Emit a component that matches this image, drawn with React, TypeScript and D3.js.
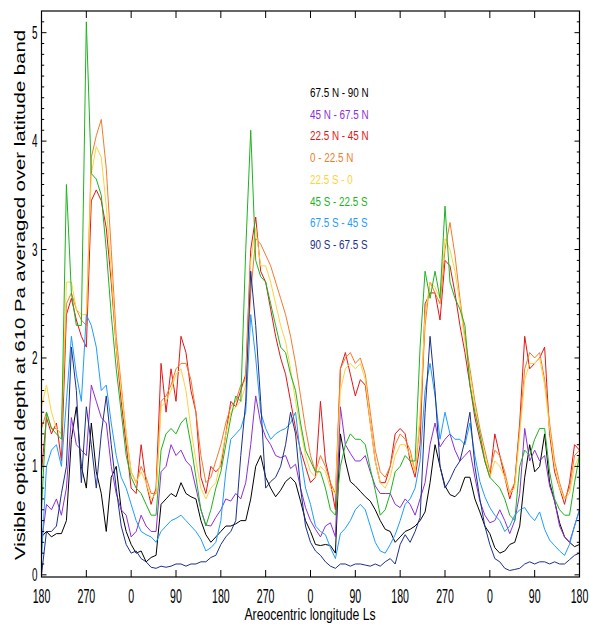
import React from 'react';
import * as d3 from 'd3';

// Ls offset (deg) from the first Ls 180, one sample every 10 deg
const stepDeg = 10;
const tickDegs = [0, 90, 180, 270, 360, 450, 540, 630, 720, 810, 900, 990, 1080];
const tickLabels = ['180', '270', '0', '90', '180', '270', '0', '90', '180', '270', '0', '90', '180'];
const yTicks = [0, 1, 2, 3, 4, 5];

const band67N90N = [0.35,0.4,0.35,0.38,0.38,0.5,1.25,1.55,1.0,0.8, 1.4,0.95,0.75,0.4,0.9,1.0,0.6,0.4,0.28,0.2, 0.22,0.12,0.16,0.18,0.65,0.7,0.75,0.72,0.85,0.75, 0.72,0.7,0.5,0.37,0.3,0.35,0.4,0.45,0.45,0.47, 0.5,0.5,0.7,1.0,1.1,0.9,0.8,0.72,0.78,0.86, 0.9,0.85,0.68,0.5,0.4,0.28,0.27,0.28,0.27,0.2, 1.3,1.05,0.86,0.82,0.77,0.72,0.68,0.6,0.5,0.42, 0.4,0.3,0.35,0.4,0.42,0.45,0.5,0.58,0.85,1.2, 1.0,0.82,0.74,0.72,0.77,0.9,0.9,0.7,0.58,0.45, 0.38,0.25,0.2,0.22,0.28,0.3,0.45,0.9,1.2,0.95, 1.0,1.3,0.85,0.68,0.48,0.35,0.3,0.26,0.28];
const band45N67N = [0.3,0.65,0.6,0.7,0.55,0.8,1.45,1.2,1.15,1.1, 1.75,1.6,1.45,1.4,1.0,0.75,0.6,0.55,0.35,0.4, 0.55,0.45,0.4,0.4,0.95,1.0,1.2,1.1,1.15,1.05, 1.0,0.8,0.6,0.46,0.45,0.53,0.6,0.7,0.68,0.75, 0.7,0.85,1.2,1.65,1.4,1.27,1.2,1.1,1.08,1.1, 0.98,1.02,0.8,0.62,0.5,0.42,0.35,0.45,0.48,0.35, 1.55,1.2,1.12,1.05,1.05,1.1,0.95,0.82,0.75,0.75, 0.75,0.65,0.62,0.7,0.65,0.55,0.7,0.85,1.2,1.4, 1.18,1.25,1.3,1.15,1.05,1.1,1.15,0.9,0.68,0.55, 0.48,0.5,0.6,0.5,0.38,0.5,0.75,1.35,1.05,1.15, 1.05,1.1,0.82,0.68,0.45,0.35,0.3,0.45,0.6];
const band22N45N = [0.95,1.45,1.3,1.4,1.05,2.4,2.55,2.35,2.2,2.1, 3.45,3.55,3.45,3.2,2.7,2.1,1.6,1.2,0.8,0.75, 1.2,0.85,0.65,0.8,1.95,1.5,1.9,1.6,2.2,2.05, 1.7,1.5,0.9,0.75,1.0,0.95,1.0,1.3,1.6,1.55, 1.7,1.85,3.0,3.3,2.8,2.7,2.45,2.2,2.0,1.85, 1.6,1.35,1.15,1.0,0.85,0.9,1.6,1.05,0.85,0.6, 1.9,2.05,1.85,1.65,1.8,1.75,1.4,1.05,0.85,0.85, 1.0,1.3,1.35,1.3,1.05,0.9,1.2,2.5,2.6,2.6, 2.35,2.9,2.85,2.6,2.3,2.05,1.75,1.45,1.25,1.05, 0.9,1.3,1.1,0.9,0.7,0.85,1.4,2.2,1.9,1.95, 2.0,2.1,1.3,0.95,0.8,0.65,0.85,1.2,1.15];
const band0N22N = [1.35,1.5,1.35,1.35,1.3,2.5,2.6,2.45,2.35,2.3, 3.85,4.05,4.2,3.75,3.0,2.2,1.75,1.3,0.95,0.85, 1.0,0.9,0.75,0.75,1.6,1.65,1.75,1.9,1.95,1.95, 1.8,1.5,1.1,0.85,0.9,1.05,1.2,1.4,1.55,1.6, 1.75,1.8,2.6,3.1,3.05,2.95,2.85,2.7,2.55,2.4, 2.2,1.95,1.65,1.35,1.1,0.95,1.1,1.0,0.85,0.75, 1.9,2.0,2.05,1.95,2.0,1.85,1.5,1.15,0.95,0.9, 1.0,1.2,1.3,1.25,1.15,0.95,1.4,2.3,2.7,2.6, 2.5,3.0,3.25,2.95,2.55,2.2,1.9,1.6,1.35,1.15, 0.95,1.15,1.1,0.95,0.75,0.85,1.35,1.9,2.05,2.0, 2.05,1.8,1.4,1.05,0.85,0.7,0.8,1.1,1.15];
const band22S0 = [1.55,1.75,1.5,1.35,1.3,2.7,2.7,2.45,2.4,2.4, 3.7,3.95,3.85,3.4,2.8,2.1,1.7,1.3,0.95,0.85, 0.95,0.85,0.7,0.75,1.55,1.6,1.7,1.85,1.9,1.7, 1.35,1.05,0.8,0.7,0.8,0.85,1.05,1.3,1.5,1.55, 1.6,1.75,2.9,3.2,2.85,2.85,2.7,2.5,2.3,2.15, 1.9,1.6,1.35,1.1,0.95,0.9,1.0,0.95,0.8,0.75, 1.7,1.9,1.95,1.9,1.95,1.8,1.4,1.05,0.85,0.8, 0.9,1.1,1.2,1.2,1.1,0.95,1.5,2.4,2.7,2.65, 2.55,3.1,3.0,2.8,2.5,2.15,1.85,1.55,1.3,1.1, 0.9,1.05,1.0,0.9,0.75,0.8,1.3,1.8,1.95,1.95, 2.0,1.75,1.35,1.0,0.8,0.7,0.75,1.0,1.1];
const band45S22S = [0.6,1.5,1.35,1.3,1.25,3.6,2.6,2.3,2.3,5.1, 3.7,3.65,3.5,3.0,2.4,1.9,1.5,1.1,0.9,0.8, 0.75,0.65,0.55,0.55,1.15,1.3,1.35,1.3,1.4,1.45, 1.2,0.9,0.6,0.45,0.6,0.8,0.95,1.2,1.45,1.65, 1.6,3.0,4.1,2.9,2.75,2.7,2.5,2.3,2.1,2.05, 1.85,1.7,1.4,1.15,1.05,0.95,0.95,0.8,0.6,0.55, 1.0,1.2,1.3,1.25,1.25,1.2,0.98,0.78,0.55,0.6, 0.75,0.95,1.0,1.1,1.05,1.05,2.1,2.8,2.55,2.8, 2.55,3.4,2.7,2.55,2.45,2.3,1.75,1.5,1.3,1.05, 0.9,0.85,0.8,0.7,0.55,0.5,1.0,1.15,1.1,1.25, 1.35,1.35,0.95,0.7,0.6,0.55,0.55,0.85,1.1];
const band67S45S = [0.15,1.0,1.15,1.2,1.0,1.6,2.2,1.85,1.6,2.4, 2.3,2.1,1.7,1.75,1.4,1.1,0.9,0.8,0.65,0.5, 0.4,0.37,0.35,0.3,0.4,0.45,0.5,0.52,0.55,0.5, 0.45,0.4,0.33,0.22,0.25,0.3,0.5,0.95,1.25,1.3, 1.35,1.5,2.4,2.0,1.5,1.35,1.25,1.3,1.33,1.35, 1.4,1.5,1.1,0.8,0.65,0.45,0.4,0.37,0.25,0.15, 0.38,0.43,0.5,0.6,0.65,0.6,0.45,0.3,0.22,0.2, 0.28,0.37,0.5,0.65,0.7,0.8,1.05,1.7,1.95,1.65, 1.25,1.5,1.3,1.25,1.25,1.2,1.4,1.1,0.86,0.72, 0.62,0.55,0.5,0.4,0.45,0.55,0.6,0.62,0.55,0.5, 0.58,0.42,0.32,0.27,0.22,0.18,0.28,0.45,0.6];
const band90S67S = [0.0,0.4,0.4,0.45,0.75,1.0,2.1,1.7,0.85,1.55, 1.2,0.8,1.3,1.65,1.2,0.8,0.45,0.28,0.2,0.22, 0.15,0.12,0.07,0.06,0.08,0.07,0.08,0.1,0.1,0.08, 0.1,0.1,0.12,0.12,0.16,0.18,0.28,0.35,0.4,0.5, 1.1,1.6,2.8,2.3,1.6,0.8,0.86,0.9,1.0,1.2, 1.5,1.3,0.8,0.45,0.3,0.22,0.18,0.12,0.08,0.06, 0.1,0.1,0.08,0.1,0.1,0.09,0.08,0.1,0.08,0.12, 0.15,0.1,0.28,0.37,0.3,0.4,0.53,1.5,2.2,1.7, 1.0,0.8,0.88,0.98,1.05,1.24,1.5,1.0,0.7,0.45, 0.28,0.15,0.12,0.06,0.04,0.05,0.06,0.1,0.12,0.1, 0.12,0.12,0.1,0.12,0.1,0.1,0.14,0.18,0.2];

const seriesValues = [band67N90N, band45N67N, band22N45N, band0N22N, band22S0, band45S22S, band67S45S, band90S67S];
const seriesNames = ['67.5 N - 90 N', '45 N - 67.5 N', '22.5 N - 45 N', '0 - 22.5 N', '22.5 S - 0', '45 S - 22.5 S', '67.5 S - 45 S', '90 S - 67.5 S'];
const seriesColors = ['#000000', '#8c2fd8', '#e61414', '#f47a2a', '#ffd23c', '#1cb41c', '#1e9cff', '#1c2f8c'];

const W = 589, H = 626;
const x = d3.scaleLinear().domain([0, 1080]).range([41.5, 579.5]);
const y = d3.scaleLinear().domain([-0.02, 5.2]).range([577, 11]);

const font = '"Liberation Sans", Arial, sans-serif';

const SqText = ({ tx, ty, sx, size, anchor, fill, children }: any) => (
  <text transform={`translate(${tx},${ty}) scale(${sx},1)`} fontSize={size} textAnchor={anchor}
    fill={fill || '#000'} fontFamily={font}>{children}</text>
);

export default function App() {
  const line = d3.line<number>()
    .x((d, i) => x(i * stepDeg))
    .y(d => y(d));

  const minor = d3.range(0, 52).map(v => v / 10);
  const [x0, x1] = x.range();
  const [yb, yt] = y.range();

  return (
    <svg width={W} height={H} style={{ position: 'absolute', left: 0, top: 0, background: '#fff' }}>
      <g fill="none" strokeWidth={1} strokeLinejoin="round">
        {seriesValues.map((vals, i) => (
          <path key={i} d={line(vals) || ''} stroke={seriesColors[i]} />
        ))}
      </g>
      <rect x={x0} y={yt} width={x1 - x0} height={yb - yt} fill="none" stroke="#000" strokeWidth={1.2} />
      <g stroke="#000" strokeWidth={1}>
        {tickDegs.map((d, i) => (
          <g key={i}>
            <line x1={x(d)} x2={x(d)} y1={yb} y2={yb - 7} />
            <line x1={x(d)} x2={x(d)} y1={yt} y2={yt + 7} />
          </g>
        ))}
        {minor.map((v, i) => {
          const major = Math.abs(v - Math.round(v)) < 1e-6;
          const len = major ? 5 : 2.7;
          return (
            <g key={i}>
              <line x1={x0} x2={x0 + len} y1={y(v)} y2={y(v)} />
              <line x1={x1} x2={x1 - len} y1={y(v)} y2={y(v)} />
            </g>
          );
        })}
      </g>
      {tickDegs.map((d, i) => (
        <SqText key={i} tx={x(d)} ty={603} sx={0.53} size={20} anchor="middle">{tickLabels[i]}</SqText>
      ))}
      {yTicks.map(v => (
        <SqText key={v} tx={37.5} ty={y(v) + 6} sx={0.55} size={18} anchor="end">{v}</SqText>
      ))}
      <SqText tx={310} ty={620} sx={0.72} size={17} anchor="middle">Areocentric longitude Ls</SqText>
      <text transform="translate(25,295) rotate(-90)" fontSize={15.5} fontFamily={font} textAnchor="middle"
        textLength={530} lengthAdjust="spacingAndGlyphs">
        Visible optical depth at 610 Pa averaged over latitude band
      </text>
      {seriesNames.map((name, i) => (
        <SqText key={i} tx={310} ty={97 + i * 21.7} sx={0.76} size={13} anchor="start" fill={seriesColors[i]}>{name}</SqText>
      ))}
    </svg>
  );
}
